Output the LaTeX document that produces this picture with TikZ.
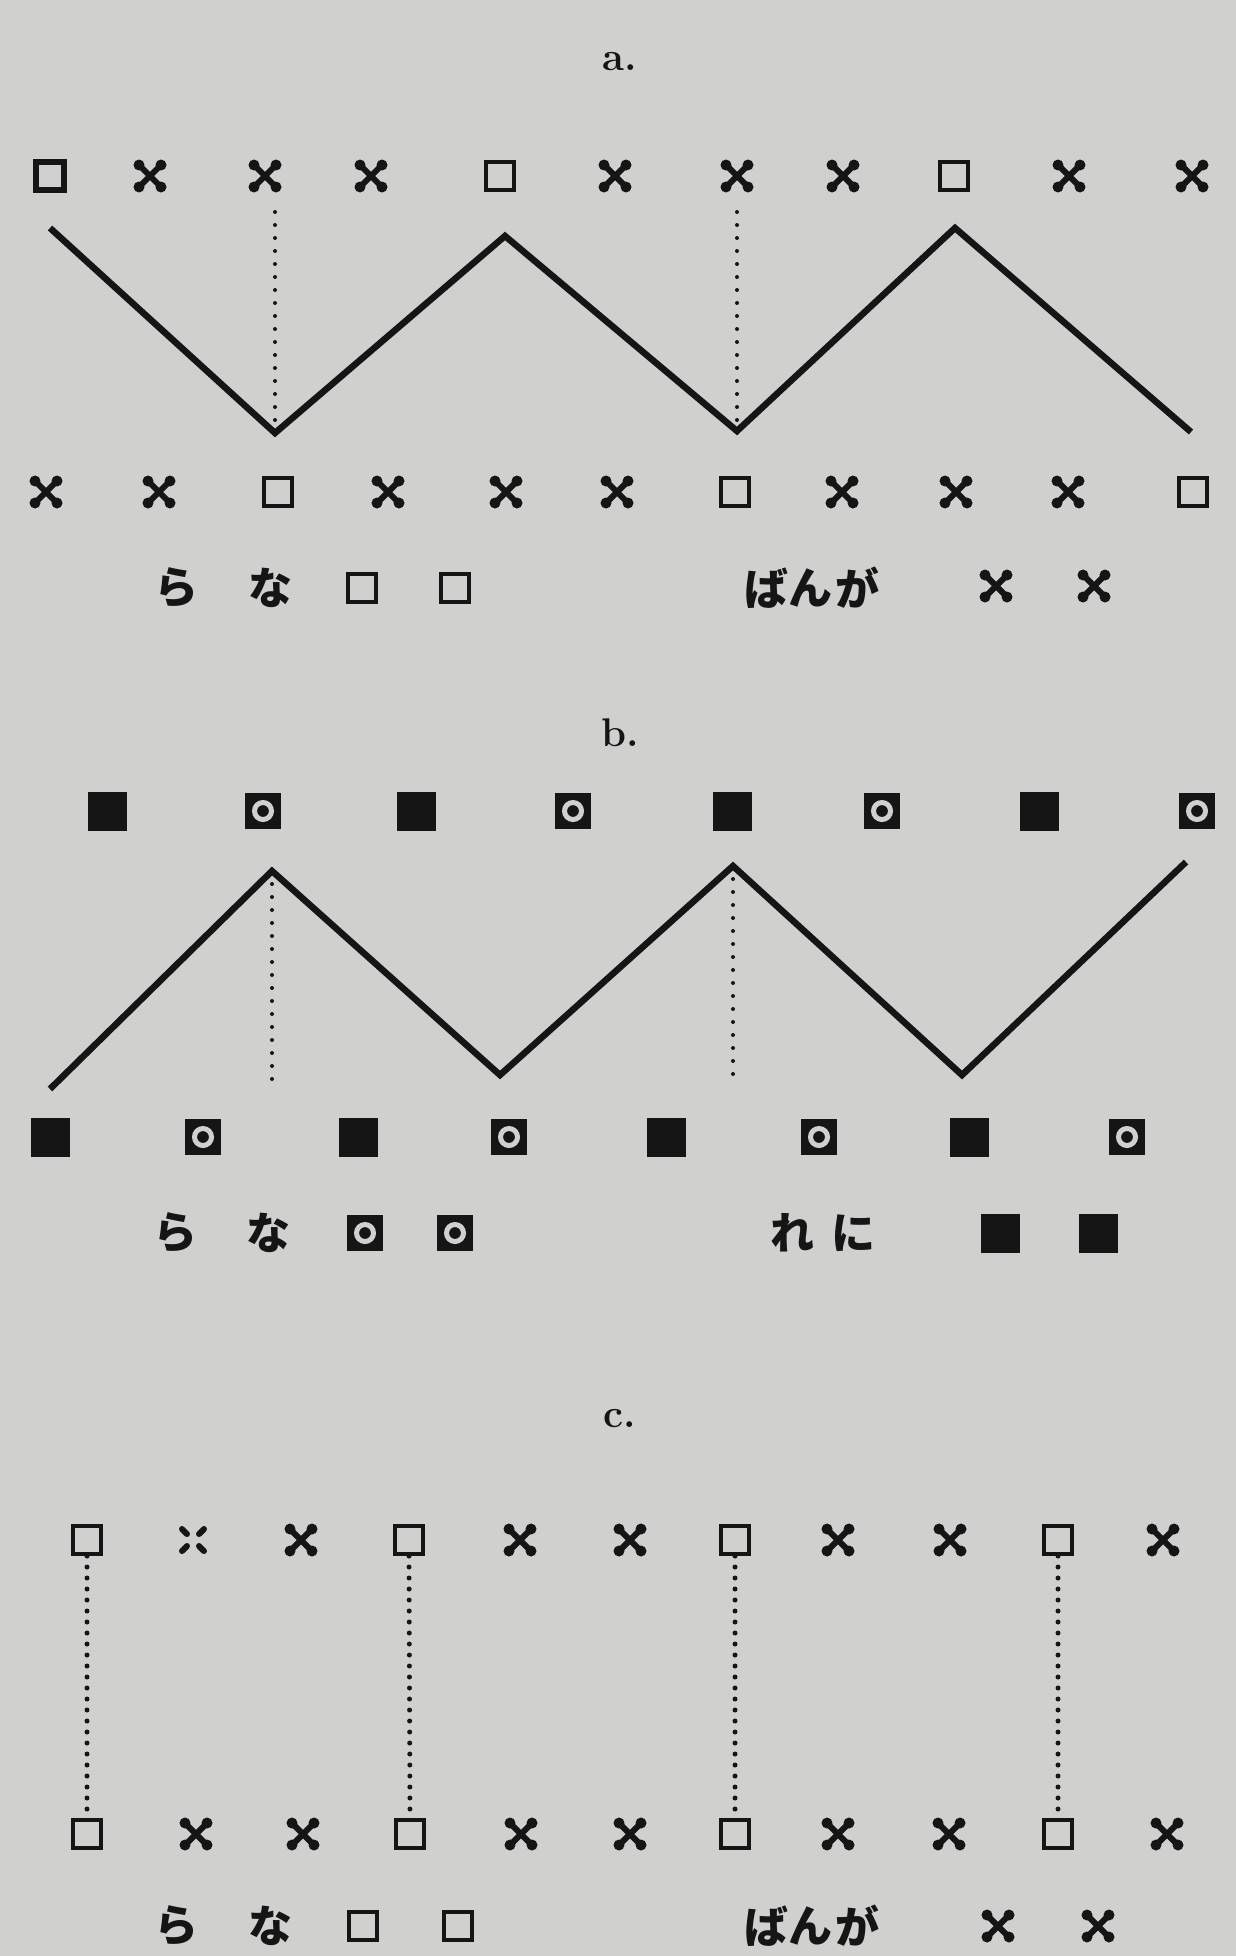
\documentclass[tikz,border=0pt]{standalone}
\usepackage{fontspec}
\newfontfamily\jpfont{Noto Sans CJK JP}
\definecolor{paper}{HTML}{D0D0CF}
\definecolor{ink}{HTML}{151515}
\tikzset{
  kind/.code={\edef\kindtmp{\noexpand\pgfkeysalso{#1}}\kindtmp},
  sq/.style={draw=ink, line width=4pt, minimum size=28pt, inner sep=0pt},
  sqb/.style={sq, line width=6pt},
  xm/.style={fill=paper, inner sep=0pt, minimum size=36pt, path picture={
    \draw[ink, line width=6pt, line cap=round]
      ([shift={(7pt,7pt)}]path picture bounding box.south west) -- ([shift={(-7pt,-7pt)}]path picture bounding box.north east)
      ([shift={(7pt,-7pt)}]path picture bounding box.north west) -- ([shift={(-7pt,7pt)}]path picture bounding box.south east);
    \fill[ink] ([shift={(7pt,7pt)}]path picture bounding box.south west) circle (5.5pt)
      ([shift={(-7pt,-7pt)}]path picture bounding box.north east) circle (5.5pt)
      ([shift={(7pt,-7pt)}]path picture bounding box.north west) circle (5.5pt)
      ([shift={(-7pt,7pt)}]path picture bounding box.south east) circle (5.5pt);
  }},
  xd/.style={fill=paper, inner sep=0pt, minimum size=36pt, path picture={
    \draw[ink, line width=6pt, line cap=round]
      ([shift={(7pt,7pt)}]path picture bounding box.south west) -- ([shift={(12pt,12pt)}]path picture bounding box.south west)
      ([shift={(-7pt,-7pt)}]path picture bounding box.north east) -- ([shift={(-12pt,-12pt)}]path picture bounding box.north east)
      ([shift={(7pt,-7pt)}]path picture bounding box.north west) -- ([shift={(12pt,-12pt)}]path picture bounding box.north west)
      ([shift={(-7pt,7pt)}]path picture bounding box.south east) -- ([shift={(-12pt,12pt)}]path picture bounding box.south east);
  }},
  ob/.style={fill=ink, inner sep=0pt, minimum size=36pt, path picture={
    \draw[paper, line width=5pt] (path picture bounding box.center) circle (8.5pt);
  }},
  fb/.style={fill=ink, inner sep=0pt, minimum size=39pt},
  zz/.style={ink, line width=6.5pt, line join=miter},
  dotab/.style={ink, line width=4pt, line cap=round, dash pattern=on 0pt off 13pt},
  dotc/.style={ink, line width=5pt, line cap=round, dash pattern=on 0pt off 11pt},
  lab/.style={font=\fontsize{40}{42}\selectfont\bfseries, text=ink, inner sep=0pt},
  jp/.style={font=\jpfont\bfseries\fontsize{44}{46}\selectfont, text=ink, inner sep=0pt},
}
\begin{document}
\begin{tikzpicture}[x=1pt,y=-1pt]
\fill[paper] (0,0) rectangle (1236,1956);
\useasboundingbox (0,0) rectangle (1236,1956);

% ---------- a ----------
\node[lab] (la) at (620,62) {a.};
\foreach \x/\k [count=\i] in {50/sqb,150/xm,265/xm,371/xm,500/sq,615/xm,737/xm,843/xm,954/sq,1069/xm,1192/xm}
  \node[kind=\k] (at\i) at (\x,176) {};
\coordinate (za1) at (50,228);
\coordinate (za2) at (275,433);
\coordinate (za3) at (505,236);
\coordinate (za4) at (737,431);
\coordinate (za5) at (955,228);
\coordinate (za6) at (1191,432);
\draw[zz] (za1) -- (za2) -- (za3) -- (za4) -- (za5) -- (za6);
\coordinate (da1) at (275,212);
\coordinate (da2) at (737,212);
\draw[dotab] (da1) -- (za2);
\draw[dotab] (da2) -- (za4);
\foreach \x/\k [count=\i] in {46/xm,159/xm,278/sq,388/xm,506/xm,617/xm,735/sq,842/xm,956/xm,1068/xm,1193/sq}
  \node[kind=\k] (ab\i) at (\x,492) {};
\node[jp] (ara) at (176,588) {ら};
\node[jp] (ana) at (270,588) {な};
\node[sq] (as1) at (362,588) {};
\node[sq] (as2) at (455,588) {};
\node[jp] (aba) at (766,588) {ば};
\node[jp] (an) at (810,588) {ん};
\node[jp] (aga) at (857,588) {が};
\node[xm] (ax1) at (996,586) {};
\node[xm] (ax2) at (1094,586) {};

% ---------- b ----------
\node[lab] (lb) at (620,733) {b.};
\foreach \x/\k [count=\i] in {107/fb,263/ob,416/fb,573/ob,732/fb,882/ob,1039/fb,1197/ob}
  \node[kind=\k] (bt\i) at (\x,811) {};
\coordinate (zb1) at (50,1089);
\coordinate (zb2) at (272,871);
\coordinate (zb3) at (500,1075);
\coordinate (zb4) at (733,866);
\coordinate (zb5) at (962,1075);
\coordinate (zb6) at (1186,862);
\draw[zz] (zb1) -- (zb2) -- (zb3) -- (zb4) -- (zb5) -- (zb6);
\coordinate (db1) at (272,1085);
\coordinate (db2) at (733,1085);
\draw[dotab] (zb2) -- (db1);
\draw[dotab] (zb4) -- (db2);
\foreach \x/\k [count=\i] in {50/fb,203/ob,358/fb,509/ob,666/fb,819/ob,969/fb,1127/ob}
  \node[kind=\k] (bb\i) at (\x,1137) {};
\node[jp] (bra) at (175,1233) {ら};
\node[jp] (bna) at (268,1233) {な};
\node[ob] (bo1) at (365,1233) {};
\node[ob] (bo2) at (455,1233) {};
\node[jp] (bre) at (792,1233) {れ};
\node[jp] (bni) at (853,1233) {に};
\node[fb] (bf1) at (1000,1233) {};
\node[fb] (bf2) at (1098,1233) {};

% ---------- c ----------
\node[lab] (lc) at (620,1419) {c.};
\foreach \x/\k [count=\i] in {87/sq,193/xd,301/xm,409/sq,520/xm,630/xm,735/sq,838/xm,950/xm,1058/sq,1163/xm}
  \node[kind=\k] (ct\i) at (\x,1540) {};
\foreach \x/\k [count=\i] in {87/sq,196/xm,303/xm,410/sq,521/xm,630/xm,735/sq,838/xm,949/xm,1058/sq,1167/xm}
  \node[kind=\k] (cb\i) at (\x,1834) {};
\draw[dotc] (ct1.south) -- (cb1.north);
\draw[dotc] (ct4.south) -- (cb4.north);
\draw[dotc] (ct7.south) -- (cb7.north);
\draw[dotc] (ct10.south) -- (cb10.north);
\node[jp] (cra) at (176,1926) {ら};
\node[jp] (cna) at (270,1926) {な};
\node[sq] (cs1) at (363,1926) {};
\node[sq] (cs2) at (458,1926) {};
\node[jp] (cba) at (766,1926) {ば};
\node[jp] (cn) at (810,1926) {ん};
\node[jp] (cga) at (857,1926) {が};
\node[xm] (cx1) at (998,1926) {};
\node[xm] (cx2) at (1098,1926) {};
\end{tikzpicture}
\end{document}
